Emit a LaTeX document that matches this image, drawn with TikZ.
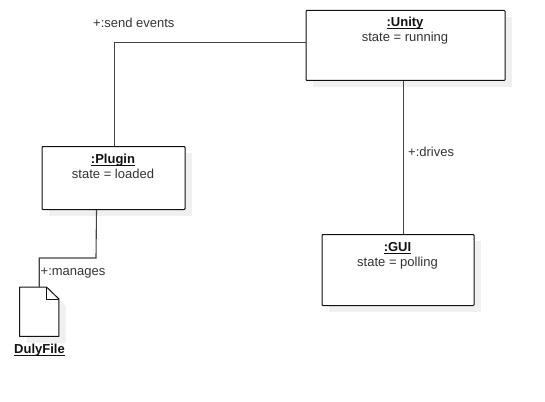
\documentclass[tikz,border=0pt]{standalone}
\usepackage{fontspec}
\setmainfont{Liberation Sans}
\definecolor{ink}{HTML}{111111}
\definecolor{wire}{HTML}{444444}
\definecolor{shade}{HTML}{F0F0F0}
\definecolor{label}{HTML}{333333}
\newcommand{\tightul}[1]{\setbox0=\hbox{#1}\rlap{\rule[-2.4pt]{\wd0}{0.9pt}}\box0}
\tikzset{
  objbox/.style={draw=ink,line width=1pt,fill=white,rounded corners=0.8pt,inner sep=0pt,anchor=north west},
  objtitle/.style={text=ink,font=\fontsize{13}{15}\selectfont\bfseries,inner sep=0pt,anchor=base},
  objstate/.style={text=label,font=\fontsize{13}{15}\selectfont,inner sep=0pt,anchor=base},
  linktext/.style={text=label,font=\fontsize{13}{15}\selectfont,inner sep=0pt,anchor=base west},
  wirepath/.style={draw=wire,line width=1.1pt},
  shadowbox/.style={fill=shade,draw=none}
}
\begin{document}
\begin{tikzpicture}[x=1pt,y=-1pt]
\useasboundingbox (0,0) rectangle (545,401);
% shadows
\fill[shadowbox] (312.5,17) rectangle (511.5,87);
\fill[shadowbox] (48.5,153) rectangle (191.5,216);
\fill[shadowbox] (328.5,241) rectangle (480.5,312);
\fill[shadowbox] (26.5,294) -- (53.5,294) -- (65.5,306) -- (65.5,343) -- (26.5,343) -- cycle;
% boxes
\node[objbox,minimum width=199pt,minimum height=70pt] (unity) at (305.5,10) {};
\node[objbox,minimum width=143pt,minimum height=63pt] (plugin) at (41.5,146) {};
\node[objbox,minimum width=152pt,minimum height=71pt] (gui) at (321.5,234) {};
\node[inner sep=0pt,minimum width=39pt,minimum height=49pt,anchor=north west] (file) at (19.5,287) {};
% file shape
\draw[draw=ink,line width=1pt,fill=white,line join=round]
  (file.north west) -- (46.5,287) -- (file.north east |- 0,299) -- (file.south east) -- (file.south west) -- cycle;
\draw[draw=ink,line width=1pt,line join=round] (46.5,287) -- (46.5,299) -- (58.5,299);
% connectors
\draw[wirepath] ([yshift=3pt]unity.west) -| ([xshift=1pt]plugin.north);
\draw[wirepath] ([xshift=-2pt]unity.south) -- ([xshift=5.5pt]gui.north);
\coordinate (bend) at (96,258);
\draw[wirepath] ([xshift=-17pt]plugin.south) -- (bend) -- (file.north |- bend) -- (file.north);
% texts
\node[objtitle] (t1) at (405,27) {\tightul{:Unity}};
\node[objstate] (s1) at (405,42) {state = running};
\node[objtitle] (t2) at (113,163) {\tightul{:Plugin}};
\node[objstate] (s2) at (113,178) {state = loaded};
\node[objtitle] (t3) at (397.5,251) {\tightul{:GUI}};
\node[objstate] (s3) at (397.5,266) {state = polling};
\node[objtitle] (t4) at (39.5,353) {\tightul{DulyFile}};
\node[linktext] (l1) at (93,28) {+:send events};
\node[linktext] (l2) at (408,156) {+:drives};
\node[linktext] (l3) at (40.5,275) {+:manages};
\end{tikzpicture}
\end{document}
